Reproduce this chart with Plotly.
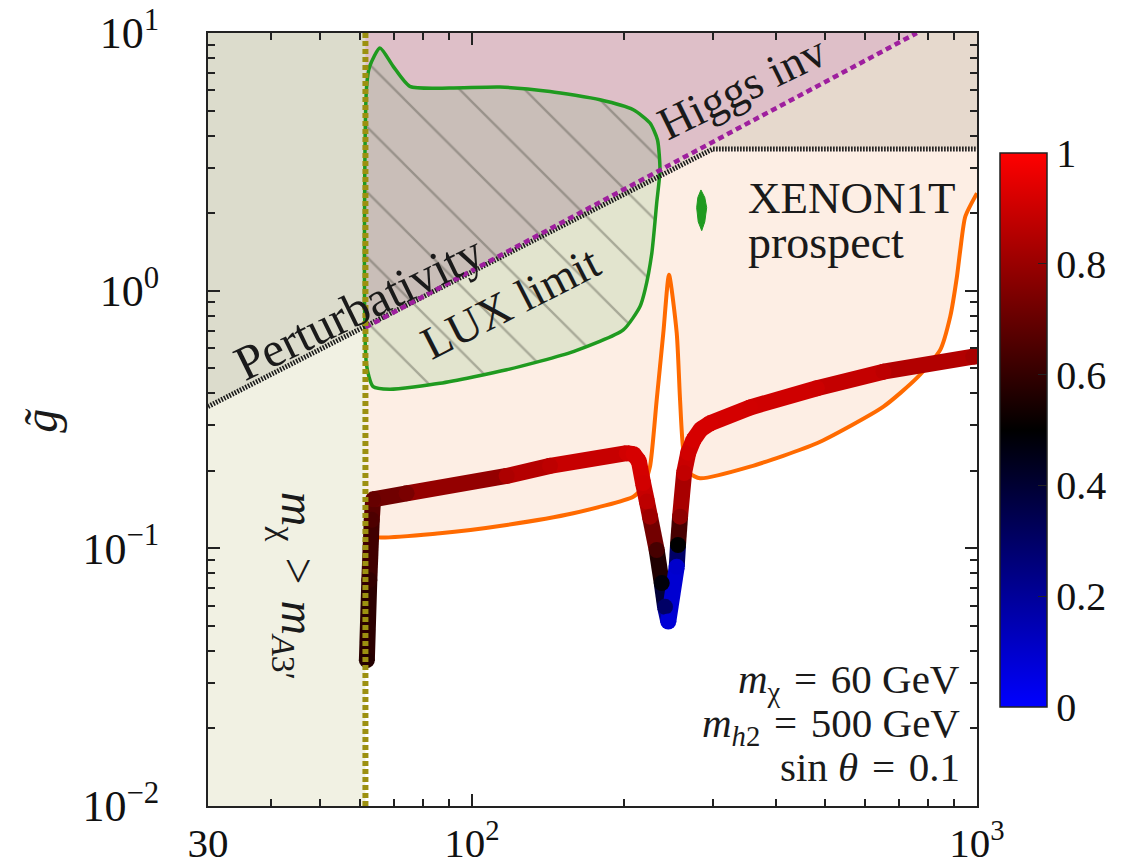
import plotly.graph_objects as go
from plotly.colors import sample_colorscale

# ---------------- data ----------------
# kinematic boundary  m_chi > m_A3'
kin_m = 61.5

# perturbativity bound
pert_m = [30, 300, 1000]
pert_g = [0.355, 3.55, 3.55]

# Higgs invisible-width bound
higgs_m = [61.5, 760]
higgs_g = [0.72, 10]

# LUX exclusion contour (closed)
lux_m = [61.8, 63.7, 68.7, 86.4, 117.1, 158.7, 199.3, 215.1, 220.1, 227.0, 232.1,
         235.6, 232.9, 225.1, 208.6, 179.2, 142.7, 113.6, 90.4, 75.3, 69.8, 65.7,
         62.7, 61.8, 61.8]
lux_g = [0.515, 0.424, 0.4145, 0.437, 0.493, 0.58, 0.704, 0.868, 1.007, 1.398, 2.187,
         2.945, 3.851, 4.472, 5.036, 5.508, 5.933, 6.17, 6.114, 6.204, 7.42, 8.745,
         7.42, 6.114, 0.515]

# XENON1T prospect: small island and sensitivity boundary
x1t_island_m = [284, 289, 291.5, 289, 285, 280.5, 278.5, 280, 284]
x1t_island_g = [2.46, 2.3, 2.1, 1.85, 1.71, 1.85, 2.1, 2.3, 2.46]

x1t_m = [61.76, 62.5, 63.7, 86.4, 117.1, 158.7, 208.6, 218.4, 225.1, 232.1, 239.2,
         245.5, 254.3, 258.2, 262.1, 270.2, 282.8, 355.3, 481.8, 652.7, 760.3, 845.6,
         885, 912.6, 926.6, 948, 1000]
x1t_g = [0.1335, 0.1178, 0.1109, 0.1144, 0.1232, 0.1368, 0.1586, 0.1734, 0.2075,
         0.3766, 0.684, 1.152, 0.684, 0.3766, 0.2408, 0.1956, 0.187, 0.2075, 0.2557,
         0.3548, 0.4585, 0.589, 0.793, 1.134, 1.44, 1.94, 2.39]

# relic-density curve and its colour value
relic_m = [61.9, 62.6, 63.3, 63.7, 74.2, 117.1, 142.7, 202.5, 209.0, 214.0, 218.1,
           222.0, 225.1, 232.1, 237.5, 241.1, 244.7, 254.3, 255.8, 258.2, 263.0,
           268.0, 274.4, 284.0, 296.1, 355.3, 481.8, 652.7, 983, 1000]
relic_g = [0.0368, 0.0753, 0.129, 0.155, 0.1635, 0.191, 0.209, 0.234, 0.232, 0.218,
           0.1793, 0.152, 0.1327, 0.0985, 0.0733, 0.0593, 0.052, 0.0848, 0.103,
           0.1327, 0.196, 0.235, 0.2634, 0.29, 0.3058, 0.3522, 0.418, 0.485,
           0.5547, 0.557]
relic_f = [0.57, 0.6, 0.65, 0.7, 0.74, 0.84, 0.87, 0.91, 0.92, 0.92, 0.91,
           0.87, 0.81, 0.64, 0.48, 0.3, 0.08, 0.1, 0.5, 0.78, 0.88,
           0.91, 0.92, 0.92, 0.92, 0.91, 0.9, 0.87, 0.83, 0.83]

# axis ticks
x_ticks = [30, 100, 1000]
x_tick_text = ["30", "10<sup>2</sup>", "10<sup>3</sup>"]
y_ticks = [0.01, 0.1, 1, 10]
y_tick_text = ["10<sup>\u22122</sup>", "10<sup>\u22121</sup>", "10<sup>0</sup>", "10<sup>1</sup>"]
cbar_ticks = [0, 0.2, 0.4, 0.6, 0.8, 1]
cbar_text = ["0", "0.2", "0.4", "0.6", "0.8", "1"]

# ---------------- styling ----------------
SERIF = "Liberation Serif, Times New Roman, DejaVu Serif, serif"
CSCALE = [[0.0, "#0000ff"], [0.5, "#000000"], [1.0, "#ff0000"]]
G_MIN, G_MAX = 0.01, 10
M_MIN, M_MAX = 30, 1000
BAND_W = 16
SP = "\u2004"  # three-per-em space around relations

fig = go.Figure()

# XENON1T-reachable region (above the orange boundary)
fig.add_trace(go.Scatter(
    x=[kin_m] + x1t_m + [M_MAX, kin_m, kin_m],
    y=[x1t_g[0]] + x1t_g + [G_MAX, G_MAX, x1t_g[0]],
    fill="toself", fillcolor="#fdeee4", mode="none", hoverinfo="skip",
    line=dict(shape="spline", smoothing=0.6)))

# kinematically excluded strip
fig.add_trace(go.Scatter(
    x=[M_MIN, kin_m, kin_m, M_MIN, M_MIN],
    y=[G_MIN, G_MIN, G_MAX, G_MAX, G_MIN],
    fill="toself", fillcolor="#f1f1e3", mode="none", hoverinfo="skip"))

# non-perturbative region
fig.add_trace(go.Scatter(
    x=pert_m + [M_MAX, M_MIN, pert_m[0]],
    y=pert_g + [G_MAX, G_MAX, pert_g[0]],
    fill="toself", fillcolor="rgba(100,104,74,0.15)", mode="none", hoverinfo="skip"))

# Higgs invisible-width exclusion
fig.add_trace(go.Scatter(
    x=higgs_m + [higgs_m[0], higgs_m[0]],
    y=higgs_g + [G_MAX, higgs_g[0]],
    fill="toself", fillcolor="rgba(190,88,180,0.2)", mode="none", hoverinfo="skip"))

# LUX excluded region: tint + hatching
fig.add_trace(go.Scatter(
    x=lux_m, y=lux_g, fill="toself", fillcolor="rgba(118,188,118,0.2)",
    mode="none", hoverinfo="skip", line=dict(shape="spline", smoothing=0.6)))
fig.add_trace(go.Scatter(
    x=lux_m, y=lux_g, fill="toself", fillcolor="rgba(0,0,0,0)", mode="none",
    line=dict(shape="spline", smoothing=0.6),
    fillpattern=dict(shape="\\", size=46, solidity=0.05,
                     fgcolor="rgba(70,70,60,0.75)", bgcolor="rgba(0,0,0,0)"),
    hoverinfo="skip"))

# XENON1T boundary
fig.add_trace(go.Scatter(x=x1t_m, y=x1t_g, mode="lines",
                         line=dict(color="#ff6a00", width=4, shape="spline", smoothing=0.6),
                         hoverinfo="skip"))

# LUX contour and XENON1T island
fig.add_trace(go.Scatter(x=lux_m, y=lux_g, mode="lines",
                         line=dict(color="#1f9a1f", width=3.5, shape="spline", smoothing=0.6),
                         hoverinfo="skip"))
fig.add_trace(go.Scatter(x=x1t_island_m, y=x1t_island_g, mode="lines", fill="toself",
                         fillcolor="#1f9a1f", line=dict(color="#1f9a1f", width=1),
                         hoverinfo="skip"))

# relic-density curve, one segment per colour step
for i in range(len(relic_m) - 1):
    c = sample_colorscale(CSCALE, [(relic_f[i] + relic_f[i + 1]) / 2])[0]
    fig.add_trace(go.Scatter(x=relic_m[i:i + 2], y=relic_g[i:i + 2], mode="lines",
                             line=dict(color=c, width=BAND_W), hoverinfo="skip"))
fig.add_trace(go.Scatter(
    x=relic_m, y=relic_g, mode="markers", hoverinfo="skip",
    marker=dict(size=BAND_W, color=relic_f, colorscale=CSCALE, cmin=0, cmax=1,
                line=dict(width=0), showscale=True,
                colorbar=dict(x=1.030, xanchor="left", y=0.4865, yanchor="middle",
                              len=0.717, lenmode="fraction", thickness=47,
                              xpad=0, ypad=0, outlinewidth=1.5, outlinecolor="#222",
                              tickvals=cbar_ticks, ticktext=cbar_text,
                              ticks="inside", ticklen=9, tickcolor="#222",
                              tickfont=dict(family=SERIF, size=40, color="#111")))))

# bound lines
fig.add_trace(go.Scatter(x=pert_m, y=pert_g, mode="lines",
                         line=dict(color="#1a1a1a", width=5, dash="1.6px,1.4px"),
                         hoverinfo="skip"))
fig.add_trace(go.Scatter(x=higgs_m, y=higgs_g, mode="lines",
                         line=dict(color="#9e1f9e", width=4.5, dash="6px,4px"),
                         hoverinfo="skip"))
fig.add_trace(go.Scatter(x=[kin_m, kin_m], y=[G_MIN, G_MAX], mode="lines",
                         line=dict(color="#9c9010", width=6, dash="5px,3px"),
                         hoverinfo="skip"))

# ---------------- text ----------------
def label(text, x, y, size=46, angle=0, xanchor="center", yanchor="middle"):
    fig.add_annotation(text=text, x=x, y=y, xref="paper", yref="paper",
                       showarrow=False, textangle=angle, xanchor=xanchor,
                       yanchor=yanchor, font=dict(family=SERIF, size=size, color="#1a1a1a"))

label("Perturbativity", 0.196, 0.645, size=49, angle=-26)
label("Higgs inv", 0.694, 0.929, angle=-26)
label("LUX limit", 0.394, 0.651, angle=-27)
label("XENON1T", 0.700, 0.786, size=45, xanchor="left")
label("prospect", 0.700, 0.729, size=46, xanchor="left")
label(f"<i>m</i><sub>\u03c7</sub>{SP}={SP}60 GeV", 0.981, 0.160, size=41, xanchor="right")
label(f"<i>m</i><sub><i>h</i>2</sub>{SP}={SP}500 GeV", 0.981, 0.104, size=41, xanchor="right")
label(f"sin <i>\u03b8</i>{SP}={SP}0.1", 0.981, 0.050, size=41, xanchor="right")
label(f"<i>m</i><sub>\u03c7</sub>{SP}>{SP}<i>m</i><sub><i>A</i>3\u2032</sub>", 0.113, 0.285,
      size=48, angle=90)
label("<i>g\u0303</i>", -0.218, 0.499, size=48, angle=-90)

x_minor = [v * 10 ** k for k in (1, 2) for v in range(2, 10) if M_MIN < v * 10 ** k < M_MAX]
y_minor = [v * 10.0 ** k for k in (-2, -1, 0) for v in range(2, 10)]

axis_common = dict(type="log", showgrid=False, zeroline=False, showline=True,
                   automargin=False,
                   linecolor="#222", linewidth=2, mirror="allticks", ticks="inside",
                   ticklen=12, tickwidth=1.5, tickcolor="#222")

fig.update_layout(
    width=1125, height=865,
    margin=dict(l=208, r=148, t=33, b=59, autoexpand=False),
    paper_bgcolor="white", plot_bgcolor="white",
    showlegend=False,
    font=dict(family=SERIF),
    xaxis=dict(range=[1.4771, 3], tickvals=x_ticks, ticktext=x_tick_text,
               ticklabelstandoff=0,
               tickfont=dict(family=SERIF, size=41, color="#111"),
               minor=dict(tickvals=x_minor, ticks="inside", ticklen=7,
                          tickwidth=1.5, tickcolor="#222"),
               **axis_common),
    yaxis=dict(range=[-2, 1], tickvals=y_ticks, ticktext=y_tick_text,
               ticklabelstandoff=38,
               tickfont=dict(family=SERIF, size=44, color="#111"),
               minor=dict(tickvals=y_minor, ticks="inside", ticklen=7,
                          tickwidth=1.5, tickcolor="#222"),
               **axis_common),
)

fig.write_html("out.html")
